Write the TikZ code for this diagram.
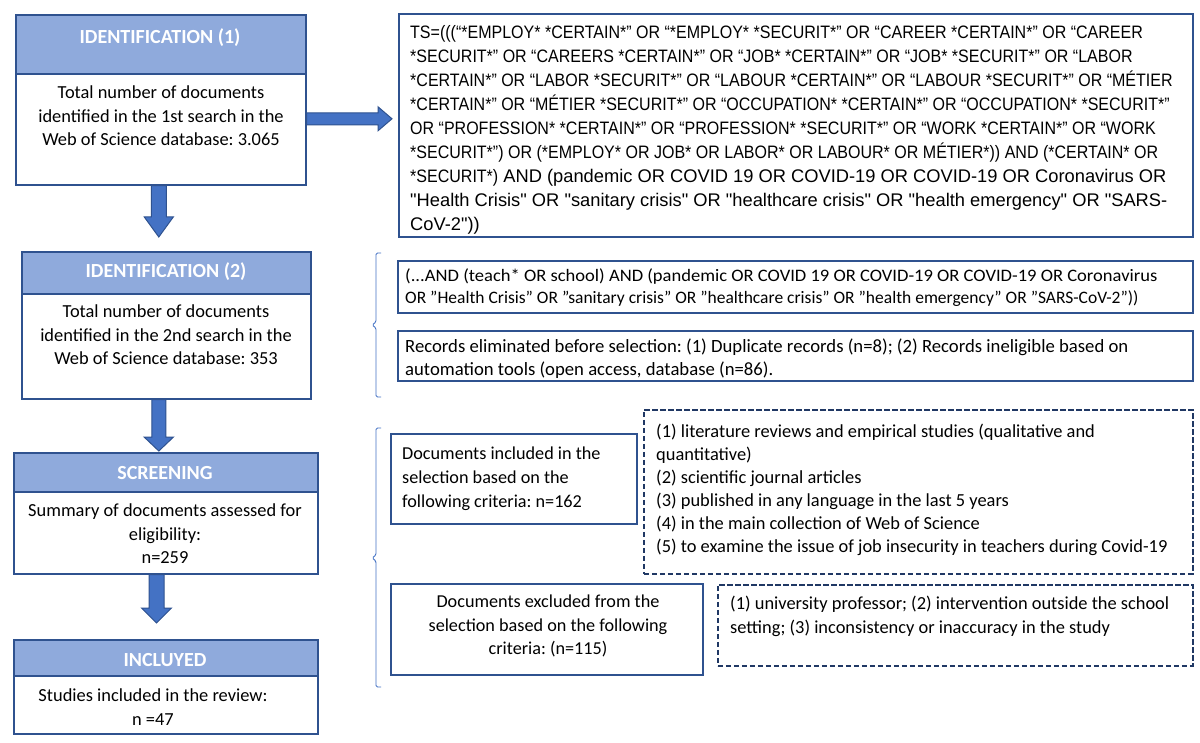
\documentclass[tikz,border=0pt]{standalone}
\usepackage{fontspec}
\setmainfont{Carlito}
\newfontfamily\narrowfont[FakeStretch=0.89]{Liberation Sans}
\newfontfamily\arialfont{Liberation Sans}
\usetikzlibrary{calc}
\definecolor{headfill}{HTML}{8FAADC}
\definecolor{boxline}{HTML}{2F528F}
\definecolor{arrowfill}{HTML}{4472C4}
\definecolor{dashline}{HTML}{203864}
\definecolor{bracecol}{HTML}{4472C4}
\newcommand\varrowblk[5]{\filldraw[blk] let \p1=(#1), \p2=(#2) in
  (\x2-#3pt,\y1) -- (\x2-#3pt,\y2+#5pt) -- (\x2-#4pt,\y2+#5pt) -- (\x2,\y2) --
  (\x2+#4pt,\y2+#5pt) -- (\x2+#3pt,\y2+#5pt) -- (\x2+#3pt,\y1) -- cycle;}
\newcommand\harrowblk[5]{\filldraw[blk] let \p1=(#1), \p2=(#2) in
  (\x1,\y2+#3pt) -- (\x2-#5pt,\y2+#3pt) -- (\x2-#5pt,\y2+#4pt) -- (\x2,\y2) --
  (\x2-#5pt,\y2-#4pt) -- (\x2-#5pt,\y2-#3pt) -- (\x1,\y2-#3pt) -- cycle;}
\newcommand\fs[2]{\fontsize{#1}{#2}\selectfont}
\newcommand\st{\rule{0pt}{14pt}}
\frenchspacing
\begin{document}
\frenchspacing
\begin{tikzpicture}[x=1pt,y=-1pt,
  box/.style={draw=boxline, line width=1.6pt, fill=white, inner sep=0pt, anchor=north west},
  head/.style={box, fill=headfill},
  dbox/.style={draw=dashline, line width=1.6pt, dash pattern=on 5.5pt off 2.5pt, fill=white, inner sep=0pt, anchor=north west},
  htxt/.style={inner sep=0pt, anchor=base, text=white, font=\fs{20}{24}\bfseries},
  ctxt/.style={inner sep=0pt, anchor=north, align=center, font=\fs{18.4}{23.5}},
  ltxt/.style={inner sep=0pt, anchor=north west, align=left},
  blk/.style={fill=arrowfill, draw=boxline, line width=1pt, line join=miter},
  bracestyle/.style={draw=bracecol, line width=0.9pt, rounded corners=1.5pt}
]
\useasboundingbox[fill=white] (0,0) rectangle (1200,743);

% ---------- left column ----------
\node[box, minimum width=290pt, minimum height=170pt] (b1) at (15,14) {};
\node[head, minimum width=290pt, minimum height=59pt] (h1) at (15,14) {};
\node[htxt] (h1t) at (160,43.6) {IDENTIFICATION (1)};
\node[ctxt] (t1) at (161,84.5) {\st Total number of documents\\identified in the 1st search in the\\Web of Science database: 3.065};

\node[box, minimum width=289pt, minimum height=147pt] (b2) at (21,251) {};
\node[head, minimum width=289pt, minimum height=42pt] (h2) at (21,251) {};
\node[htxt] (h2t) at (166,278) {IDENTIFICATION (2)};
\node[ctxt] (t2) at (166,303.5) {\st Total number of documents\\identified in the 2nd search in the\\Web of Science database: 353};

\node[box, minimum width=304pt, minimum height=121pt] (b3) at (13,452) {};
\node[head, minimum width=304pt, minimum height=39pt] (h3) at (13,452) {};
\node[htxt] (h3t) at (165,479) {SCREENING};
\node[ctxt] (t3) at (165,502.5) {\st Summary of documents assessed for\\eligibility:\\n=259};

\node[box, minimum width=304pt, minimum height=94pt] (b4) at (13,639) {};
\node[head, minimum width=304pt, minimum height=36pt] (h4) at (13,639) {};
\node[htxt] (h4t) at (165,666) {INCLUYED};
\node[ctxt] (t4) at (153,687.5) {\st Studies included in the review:\\n =47};

% ---------- right column ----------
\node[box, minimum width=794pt, minimum height=223pt] (q1) at (398,13) {};
\node[ltxt, font=\fs{18}{24.1}] (q1t) at (410,24) {\narrowfont\st TS=(((“*EMPLOY* *CERTAIN*” OR “*EMPLOY* *SECURIT*” OR “CAREER *CERTAIN*” OR “CAREER\\
\narrowfont *SECURIT*” OR “CAREERS *CERTAIN*” OR “JOB* *CERTAIN*” OR “JOB* *SECURIT*” OR “LABOR\\
\narrowfont *CERTAIN*” OR “LABOR *SECURIT*” OR “LABOUR *CERTAIN*” OR “LABOUR *SECURIT*” OR “MÉTIER\\
\narrowfont *CERTAIN*” OR “MÉTIER *SECURIT*” OR “OCCUPATION* *CERTAIN*” OR “OCCUPATION* *SECURIT*”\\
\narrowfont OR “PROFESSION* *CERTAIN*” OR “PROFESSION* *SECURIT*” OR “WORK *CERTAIN*” OR “WORK\\
\narrowfont *SECURIT*”) OR (*EMPLOY* OR JOB* OR LABOR* OR LABOUR* OR MÉTIER*)) AND (*CERTAIN* OR\\
{\narrowfont *SECURIT*)}{\arialfont\fs{18.3}{24.1} AND (pandemic OR COVID 19 OR COVID-19 OR COVID-19 OR Coronavirus OR}\\
\arialfont\fs{18.3}{24.1}"Health Crisis" OR "sanitary crisis" OR "healthcare crisis" OR "health emergency" OR "SARS-\\
\arialfont\fs{18.3}{24.1}CoV-2"))};

\node[box, minimum width=795pt, minimum height=52pt] (q2) at (397,260) {};
\node[ltxt, font=\fs{17.5}{22}] (q2t) at (405,267) {\st{\addfontfeature{FakeStretch=1.06}(...AND (teach* OR school) AND (pandemic OR COVID 19 OR COVID-19 OR COVID-19 OR Coronavirus}\\
OR "Health Crisis" OR "sanitary crisis" OR "healthcare crisis" OR "health emergency" OR "SARS-CoV-2"))};

\node[box, minimum width=795pt, minimum height=50pt] (rec) at (397,330) {};
\node[ltxt, font=\fs{18.7}{23}] (rect) at (405,338) {\st Records eliminated before selection: (1) Duplicate records (n=8); (2) Records ineligible based on\\
automation tools (open access, database (n=86).};

\node[box, minimum width=246pt, minimum height=90pt] (inc) at (390,433) {};
\node[ltxt, font=\fs{18.2}{24}] (inct) at (402,445.5) {\st Documents included in the\\selection based on the\\following criteria: n=162};

\node[dbox, minimum width=549pt, minimum height=164pt] (d1) at (643,409) {};
\node[ltxt, font=\fs{18.4}{23}] (d1t) at (656,423.5) {\st(1) literature reviews and empirical studies (qualitative and\\quantitative)\\(2) scientific journal articles\\(3) published in any language in the last 5 years\\(4) in the main collection of Web of Science\\(5) to examine the issue of job insecurity in teachers during Covid-19};

\node[box, minimum width=312pt, minimum height=91pt] (exc) at (390,583) {};
\node[ctxt, font=\fs{18.2}{23.5}] (exct) at (548,593.5) {\st Documents excluded from the\\selection based on the following\\criteria: (n=115)};

\node[dbox, minimum width=475pt, minimum height=81pt] (d2) at (717,584) {};
\node[ltxt, font=\fs{18.4}{24}] (d2t) at (730,595.5) {\st(1) university professor; (2) intervention outside the school\\setting; (3) inconsistency or inaccuracy in the study};

% ---------- block arrows ----------
\harrowblk{$(b1.east)+(0,19)$}{$(q1.west)+(-6,-6.5)$}{6}{12}{14}
\varrowblk{b1.south}{$(b2.north)+(-7.5,-14)$}{7.5}{14.5}{20}
\varrowblk{b2.south}{$(b3.north)+(-7,-1)$}{7}{14.7}{14}
\varrowblk{b3.south}{$(b4.north)+(-9.3,-16)$}{7.5}{15}{15}

% ---------- braces ----------
\draw[bracestyle] (381,253) -- (376,253) -- (376,322) -- (372,325) -- (376,328) -- (376,397) -- (381,397);
\draw[bracestyle] (381,428) -- (376,428) -- (376,555) -- (372,558) -- (376,561) -- (376,687) -- (381,687);
\end{tikzpicture}
\end{document}
